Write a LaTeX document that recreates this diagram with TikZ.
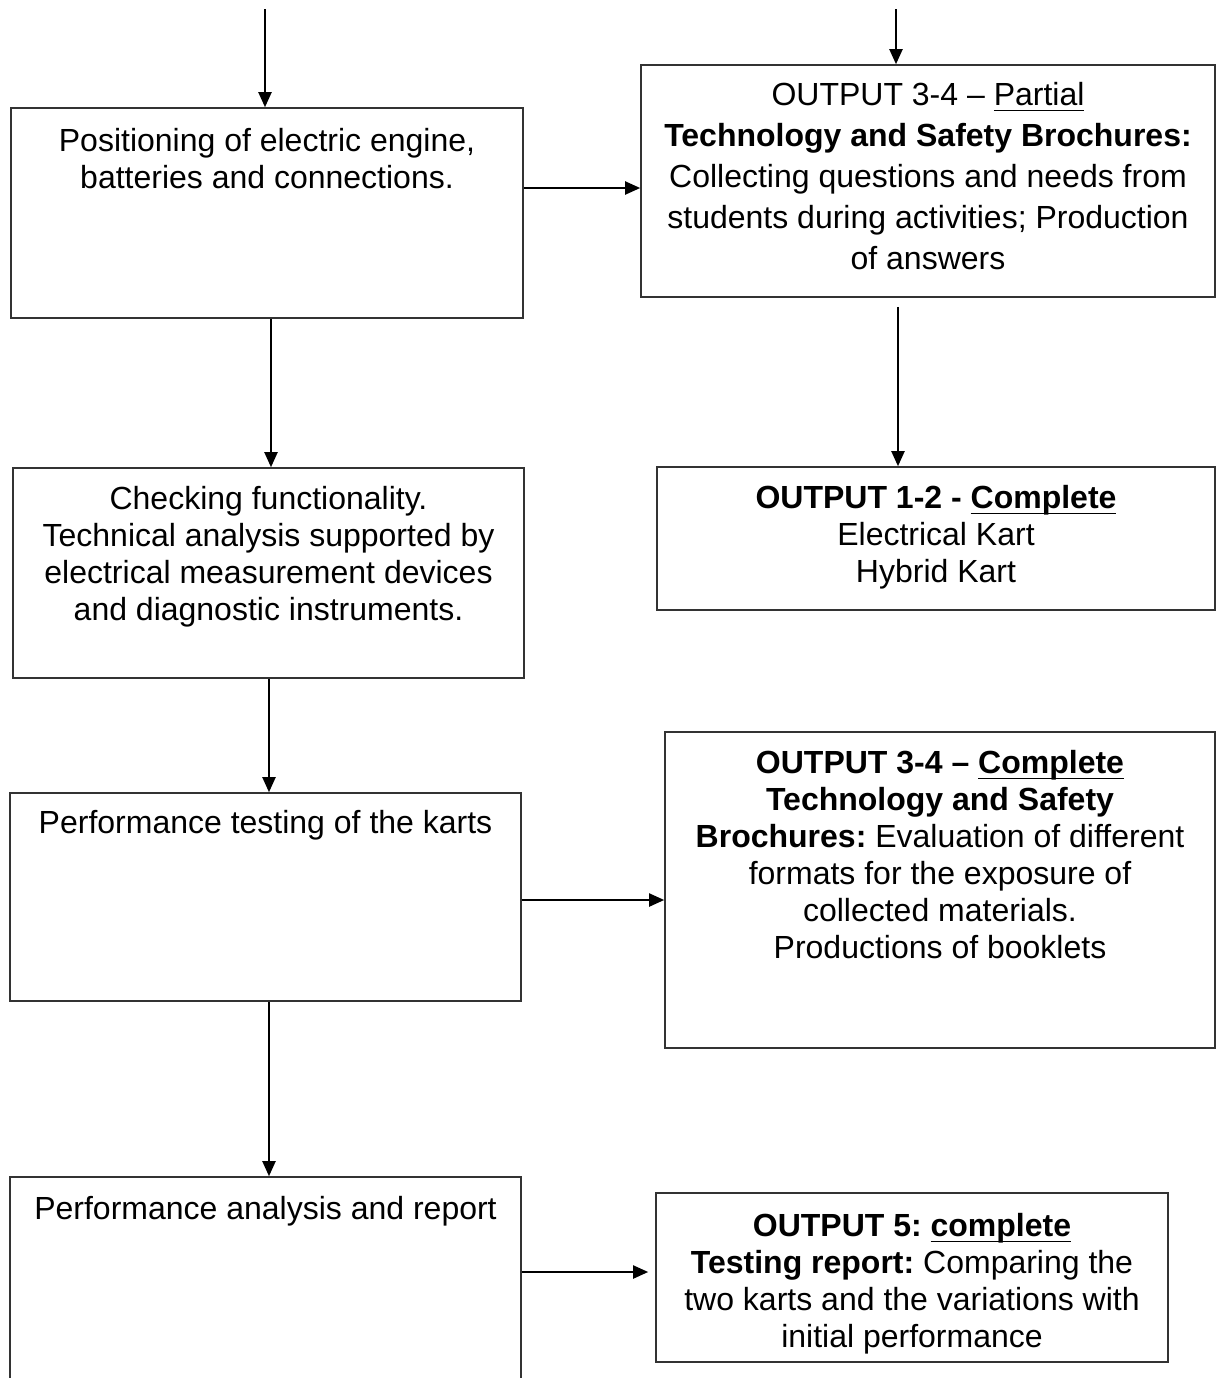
\documentclass[tikz,border=0pt]{standalone}
\usepackage{fontspec}
\setmainfont{Liberation Sans}
\usetikzlibrary{arrows.meta,positioning,fit,calc}

% underline sitting just under the baseline
\newcommand{\undl}[1]{\setbox0\hbox{#1}\leavevmode\rlap{\rule[-2.8pt]{\wd0}{0.9pt}}\box0}

\tikzset{
  frame/.style={draw=black!80, line width=0.8pt, inner sep=0pt},
  txt/.style={align=center, inner sep=0pt, font=\fontsize{16}{18.5}\selectfont\frenchspacing},
  arr/.style={-{Triangle[length=7.5pt,width=6.5pt]}, line width=1pt}
}

\begin{document}
\begin{tikzpicture}[x=0.5pt,y=-0.5pt]
    \useasboundingbox (0,0) rectangle (1221,1378);

    % left column
    \node[frame, fit={(11,108) (523,318)}] (posbox) {};
    \node[txt, below=10.5pt of posbox.north] (postext)
      {Positioning of electric engine,\\ batteries and connections.};

    \node[frame, fit={(13,468) (524,678)}] (checkbox) {};
    \node[txt, below=9.5pt of checkbox.north] (checktext)
      {Checking functionality.\\ Technical analysis supported by\\
       electrical measurement devices\\ and diagnostic instruments.};

    \node[frame, fit={(10,793) (521,1001)}] (testbox) {};
    \node[txt, below=9pt of testbox.north] (testtext)
      {Performance testing of the karts};

    \node[frame, fit={(10,1177) (521,1400)}] (reportbox) {};
    \node[txt, below=10pt of reportbox.north] (reporttext)
      {Performance analysis and report};

    % right column
    \node[frame, fit={(641,65) (1215,297)}] (partbox) {};
    \node[txt, font=\fontsize{16}{20.5}\selectfont\frenchspacing, below=9pt of partbox.north] (parttext)
      {OUTPUT 3-4 -- \undl{Partial}\\ \textbf{Technology and Safety Brochures:}\\
       Collecting questions and needs from\\ students during activities; Production\\ of answers};

    \node[frame, fit={(657,467) (1215,610)}] (donebox) {};
    \node[txt, below=9.5pt of donebox.north] (donetext)
      {\textbf{OUTPUT 1-2 - \undl{Complete}}\\ Electrical Kart\\ Hybrid Kart};

    \node[frame, fit={(665,732) (1215,1048)}] (brochbox) {};
    \node[txt, below=9.5pt of brochbox.north] (brochtext)
      {\textbf{OUTPUT 3-4 -- \undl{Complete}}\\ \textbf{Technology and Safety}\\
       \textbf{Brochures:} Evaluation of different\\ formats for the exposure of\\
       collected materials.\\ Productions of booklets};

    \node[frame, fit={(656,1193) (1168,1362)}] (outbox) {};
    \node[txt, below=10.5pt of outbox.north] (outtext)
      {\textbf{OUTPUT 5: \undl{complete}}\\ \textbf{Testing report:} Comparing the\\
       two karts and the variations with\\ initial performance};

    % connectors
    \coordinate (inL) at (265,9);
    \coordinate (inR) at (896,9);
    \draw[arr] (inL) -- (inL |- posbox.north);
    \draw[arr] (inR) -- (inR |- partbox.north);
    \draw[arr] (posbox.east |- 0,188) -- (partbox.west |- 0,188);
    \draw[arr] (271,0 |- posbox.south) -- (271,0 |- checkbox.north);
    \draw[arr] ($(partbox.south -| 898,0)+(0,9)$) -- (898,0 |- donebox.north);
    \draw[arr] (269,0 |- checkbox.south) -- (269,0 |- testbox.north);
    \draw[arr] (testbox.east |- 0,900) -- (brochbox.west |- 0,900);
    \draw[arr] (269,0 |- testbox.south) -- (269,0 |- reportbox.north);
    \draw[arr] (reportbox.east |- 0,1272) -- ($(outbox.west |- 0,1272)+(-7,0)$);
\end{tikzpicture}
\end{document}
